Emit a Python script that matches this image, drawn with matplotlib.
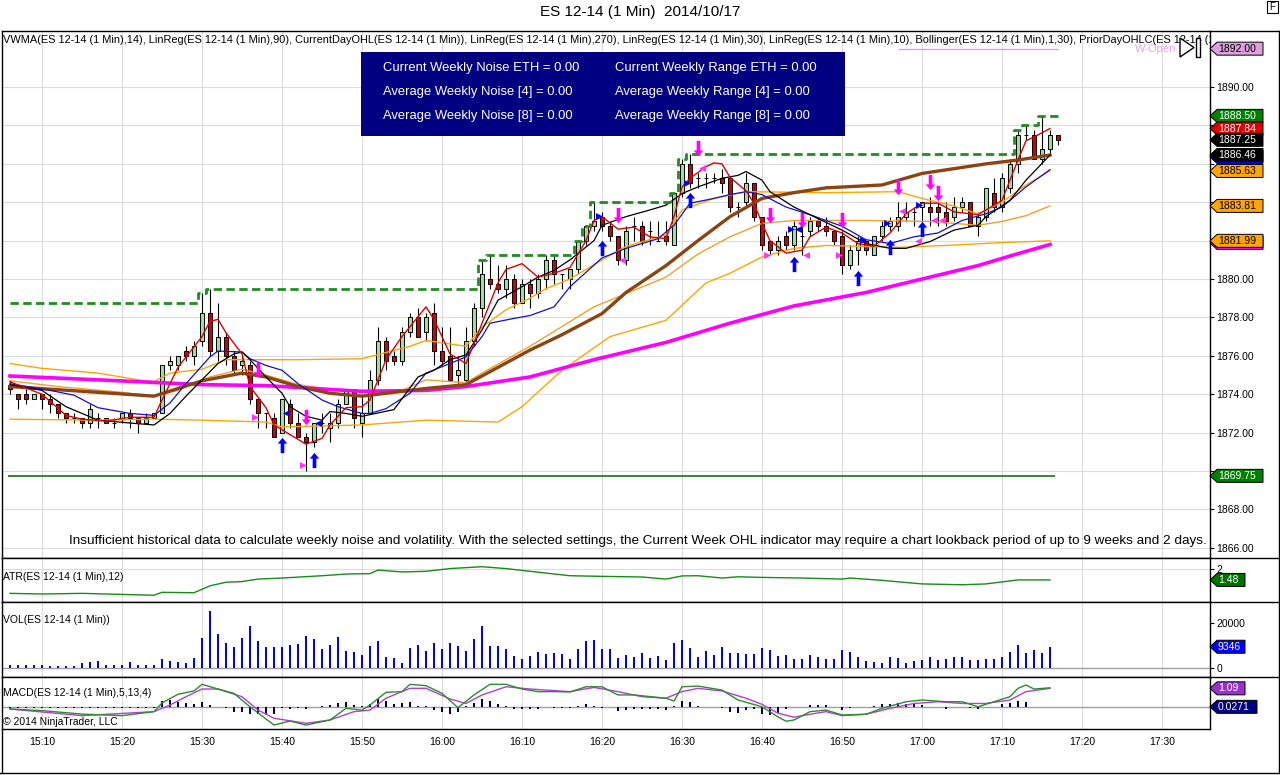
import matplotlib
matplotlib.use("Agg")
import matplotlib.pyplot as plt
import matplotlib.transforms as mtransforms
from matplotlib.lines import Line2D
from matplotlib.patches import Polygon, Rectangle
from matplotlib.path import Path
import numpy as np

plt.rcParams['font.family'] = ['Liberation Sans', 'DejaVu Sans']

# ---------------- data ----------------
session_start = '15:06'
time_ticks = ['15:10', '15:20', '15:30', '15:40', '15:50', '16:00', '16:10', '16:20',
              '16:30', '16:40', '16:50', '17:00', '17:10', '17:20', '17:30']

opens = [1874.5, 1874.0, 1874.0, 1873.75, 1874.0, 1873.75, 1873.5, 1873.0, 1872.75, 1872.75,
         1872.5, 1872.75, 1872.75, 1872.5, 1872.75, 1873.0, 1872.75, 1872.5, 1872.75, 1873.0,
         1875.5, 1875.5, 1876.25, 1876.0, 1876.75, 1878.25, 1876.25, 1877.0, 1876.0, 1875.5,
         1875.5, 1873.75, 1873.0, 1872.75, 1872.0, 1873.5, 1872.5, 1871.75, 1871.5, 1872.5,
         1872.25, 1872.5, 1873.5, 1874.25, 1872.5, 1873.0, 1874.75, 1876.75, 1876.0, 1875.75,
         1877.25, 1878.0, 1877.25, 1878.25, 1876.25, 1876.0, 1875.0, 1874.75, 1876.75, 1878.5,
         1880.0, 1879.75, 1879.5, 1880.0, 1878.75, 1879.75, 1879.25, 1880.0, 1881.0, 1880.25,
         1880.0, 1880.5, 1882.0, 1882.75, 1883.25, 1882.75, 1882.25, 1881.0, 1882.75, 1882.75,
         1882.5, 1882.0, 1882.25, 1881.75, 1884.5, 1886.0, 1885.25, 1885.25, 1885.25, 1885.25,
         1885.25, 1883.75, 1884.0, 1885.0, 1883.25, 1882.0, 1881.5, 1882.25, 1881.75, 1882.25,
         1882.5, 1883.0, 1882.75, 1882.5, 1882.25, 1880.75, 1881.5, 1882.0, 1881.25, 1882.25,
         1882.75, 1882.75, 1883.25, 1883.5, 1883.75, 1883.75, 1883.75, 1883.5, 1883.25, 1883.75,
         1884.0, 1882.75, 1883.25, 1884.5, 1883.75, 1884.75, 1886.0, 1887.5, 1887.5, 1886.25,
         1886.75, 1887.5]
highs = [1874.75, 1874.0, 1874.25, 1874.0, 1874.0, 1874.0, 1873.5, 1873.0, 1873.0, 1872.75,
         1873.5, 1873.0, 1872.75, 1872.75, 1873.0, 1873.25, 1872.75, 1873.0, 1873.0, 1875.5,
         1876.0, 1876.0, 1876.5, 1876.75, 1879.25, 1879.5, 1878.75, 1877.25, 1876.25, 1876.0,
         1875.75, 1873.75, 1873.0, 1873.0, 1873.75, 1873.75, 1873.0, 1872.0, 1872.5, 1873.0,
         1873.0, 1873.75, 1874.25, 1874.25, 1874.0, 1875.25, 1877.5, 1877.0, 1876.25, 1877.5,
         1878.25, 1878.5, 1878.25, 1878.75, 1877.5, 1877.5, 1876.0, 1877.5, 1878.75, 1881.0,
         1881.25, 1880.75, 1880.75, 1880.25, 1880.0, 1880.0, 1880.25, 1881.25, 1881.25, 1880.25,
         1880.5, 1882.0, 1882.75, 1884.0, 1883.5, 1883.0, 1882.25, 1882.75, 1883.25, 1883.0,
         1883.0, 1883.0, 1883.0, 1884.5, 1886.25, 1886.5, 1885.5, 1885.5, 1885.5, 1885.75,
         1885.25, 1884.0, 1885.5, 1885.0, 1883.25, 1882.0, 1882.25, 1882.5, 1883.0, 1883.0,
         1883.25, 1883.25, 1883.25, 1882.5, 1882.5, 1881.75, 1882.25, 1882.0, 1882.25, 1883.0,
         1883.25, 1884.0, 1884.0, 1883.75, 1884.0, 1884.25, 1884.0, 1884.0, 1884.25, 1884.25,
         1884.0, 1883.5, 1884.75, 1885.25, 1885.5, 1886.25, 1887.75, 1888.0, 1887.75, 1888.5,
         1887.75, 1887.5]
lows = [1874.0, 1873.25, 1873.5, 1873.75, 1873.25, 1873.0, 1872.75, 1872.5, 1872.5, 1872.25,
        1872.25, 1872.25, 1872.5, 1872.25, 1872.5, 1872.25, 1872.0, 1872.5, 1872.75, 1873.0,
        1875.25, 1875.25, 1875.75, 1875.5, 1876.5, 1876.0, 1875.75, 1875.5, 1875.0, 1875.0,
        1873.5, 1872.25, 1872.25, 1871.75, 1872.0, 1872.25, 1871.75, 1870.0, 1871.25, 1872.0,
        1871.5, 1872.25, 1873.5, 1872.25, 1871.75, 1873.0, 1874.5, 1875.25, 1875.5, 1875.5,
        1877.0, 1877.0, 1876.75, 1875.5, 1875.5, 1874.75, 1874.5, 1874.5, 1876.5, 1878.0,
        1879.5, 1879.25, 1879.0, 1878.5, 1878.75, 1878.5, 1879.0, 1879.5, 1879.75, 1879.5,
        1879.5, 1880.25, 1881.75, 1882.5, 1882.5, 1882.0, 1880.75, 1880.75, 1882.0, 1881.75,
        1881.75, 1882.0, 1881.75, 1881.75, 1884.25, 1884.75, 1884.75, 1884.75, 1885.0, 1884.5,
        1883.5, 1883.25, 1883.75, 1883.0, 1881.5, 1881.25, 1881.25, 1881.5, 1881.5, 1881.25,
        1882.25, 1882.5, 1882.25, 1881.75, 1880.25, 1880.5, 1880.75, 1881.25, 1881.25, 1882.0,
        1882.5, 1882.5, 1883.0, 1882.75, 1882.75, 1882.75, 1882.75, 1882.75, 1883.0, 1883.5,
        1882.75, 1882.25, 1883.0, 1883.5, 1883.5, 1884.5, 1885.5, 1887.25, 1886.25, 1886.0,
        1886.5, 1887.0]
closes = [1874.25, 1873.75, 1873.75, 1874.0, 1873.75, 1873.5, 1873.0, 1872.75, 1872.75, 1872.5,
          1873.25, 1872.75, 1872.5, 1872.5, 1873.0, 1872.75, 1872.5, 1872.75, 1873.0, 1875.5,
          1875.75, 1876.0, 1876.0, 1876.5, 1878.25, 1876.25, 1877.0, 1876.0, 1875.25, 1875.75,
          1873.75, 1873.0, 1873.0, 1871.75, 1873.75, 1872.5, 1871.75, 1871.5, 1872.5, 1872.5,
          1872.5, 1873.5, 1874.25, 1872.75, 1873.0, 1874.75, 1876.75, 1875.75, 1875.75, 1877.25,
          1878.0, 1877.0, 1878.0, 1876.25, 1875.75, 1874.75, 1875.25, 1876.75, 1878.5, 1880.25,
          1879.75, 1879.5, 1880.0, 1878.75, 1879.75, 1879.25, 1880.0, 1881.0, 1880.25, 1880.25,
          1880.5, 1882.0, 1882.75, 1883.0, 1882.75, 1882.25, 1881.0, 1882.5, 1882.75, 1882.0,
          1882.5, 1882.0, 1882.0, 1884.5, 1886.0, 1885.0, 1885.25, 1885.25, 1885.25, 1885.0,
          1883.75, 1883.75, 1885.0, 1883.25, 1881.75, 1881.5, 1882.0, 1881.75, 1882.75, 1882.25,
          1883.0, 1882.75, 1882.5, 1882.0, 1880.75, 1881.5, 1882.0, 1881.5, 1882.25, 1882.75,
          1883.0, 1883.25, 1883.5, 1883.5, 1884.0, 1883.5, 1883.5, 1883.0, 1883.75, 1884.0,
          1882.75, 1883.25, 1884.75, 1883.75, 1885.25, 1886.0, 1887.5, 1887.5, 1886.25, 1886.75,
          1887.5, 1887.25]

volume = [1200, 1200, 1200, 1200, 1050, 900, 750, 750, 900, 2100,
          2400, 3000, 1200, 1200, 1200, 2550, 1200, 1200, 1200, 3900,
          3000, 2550, 2250, 4500, 13500, 25500, 15150, 11100, 9450, 13500,
          18750, 12000, 9450, 9450, 9450, 10200, 10500, 14250, 13050, 8400,
          10200, 13950, 7500, 7050, 5850, 9900, 12000, 4800, 4350, 2250,
          8850, 10200, 7500, 11100, 8400, 11100, 9900, 7500, 12900, 18750,
          9900, 9900, 8400, 5250, 3900, 5250, 7050, 6300, 6450, 6150,
          3900, 8400, 12000, 12450, 8400, 8400, 4350, 5700, 4800, 6600,
          4350, 5250, 3450, 11100, 12450, 8850, 4800, 7500, 5700, 9300,
          6600, 6600, 6150, 6150, 8850, 7950, 5250, 5700, 3900, 3900,
          5700, 4800, 3900, 3900, 7950, 7050, 4800, 3000, 2550, 2100,
          4800, 4350, 2100, 3000, 3450, 4800, 3450, 3900, 4800, 4800,
          3450, 3450, 3900, 3900, 4800, 7050, 10200, 6600, 7950, 6600,
          9346]

prior_day_high = 1878.75
day_low = 1869.75
week_open = 1892.00
week_open_first_bar = 111

# indicator lines: (bar index, value) pairs
red_idx = [0, 4, 7, 9, 12, 15, 18, 19, 21, 24, 25, 26, 27, 29, 30, 32, 33, 35, 37, 39,
           40, 42, 44, 45, 47, 49, 52, 53, 55, 57, 59, 61, 62, 64, 66, 68, 70, 72, 73, 74,
           76, 78, 80, 82, 83, 84, 85, 87, 88, 89, 90, 92, 93, 94, 95, 97, 99, 100, 102, 104,
           106, 108, 110, 112, 114, 116, 118, 121, 122, 124, 125, 126, 127, 128, 130]
red_val = [1874.65, 1874.0, 1872.9, 1872.7, 1872.6, 1872.8, 1872.8, 1873.7, 1875.4, 1877.0,
           1877.8, 1877.9, 1877.2, 1876.1, 1874.4, 1873.3, 1872.4, 1871.9, 1871.4, 1871.7,
           1872.4, 1873.3, 1873.35, 1873.7, 1875.8, 1877.0, 1878.55, 1877.9, 1876.1, 1875.6,
           1877.7, 1879.8, 1880.5, 1880.8, 1880.1, 1880.3, 1880.6, 1882.0, 1883.05, 1883.25,
           1882.6, 1882.7, 1882.2, 1882.1, 1883.25, 1884.8, 1885.25, 1885.85, 1886.05, 1886.0,
           1885.3, 1884.6, 1883.95, 1882.9, 1882.0, 1881.35, 1881.5, 1882.2, 1882.7, 1882.4,
           1881.85, 1881.7, 1882.4, 1883.4, 1883.95, 1883.95, 1883.5, 1883.35, 1883.6, 1884.1,
           1885.15, 1886.2, 1887.2, 1887.4, 1887.84]
blk_idx = [0, 4, 7, 11, 15, 18, 20, 22, 24, 26, 28, 29, 30, 32, 34, 35, 37, 39, 40, 42,
           44, 48, 51, 53, 55, 57, 59, 61, 64, 66, 68, 70, 73, 74, 77, 80, 82, 84, 86, 89,
           91, 92, 94, 95, 98, 101, 104, 107, 110, 112, 115, 118, 121, 122, 125, 127, 130]
blk_val = [1874.5, 1874.2, 1873.35, 1872.65, 1872.5, 1872.4, 1873.0, 1873.9, 1874.75, 1875.6,
           1876.1, 1876.2, 1875.8, 1874.9, 1874.05, 1873.35, 1872.85, 1872.65, 1873.1, 1873.0,
           1872.85, 1873.2, 1874.9, 1875.25, 1875.8, 1876.05, 1877.35, 1878.9, 1879.6, 1880.1,
           1880.45, 1881.0, 1882.0, 1882.8, 1883.25, 1883.6, 1883.85, 1884.45, 1884.8, 1885.25,
           1885.4, 1885.6, 1885.15, 1884.55, 1883.75, 1883.15, 1882.55, 1881.85, 1881.6, 1881.6,
           1881.95, 1882.55, 1882.8, 1883.25, 1884.1, 1885.15, 1886.46]
blu_idx = [0, 5, 8, 11, 15, 18, 20, 22, 25, 26, 29, 30, 32, 34, 36, 39, 41, 44, 45, 47,
           50, 52, 55, 57, 59, 60, 63, 65, 68, 70, 74, 77, 81, 83, 85, 88, 90, 92, 94, 97,
           100, 104, 107, 110, 113, 116, 119, 122, 124, 127, 130]
blu_val = [1874.55, 1874.2, 1873.95, 1873.3, 1873.0, 1872.9, 1873.55, 1874.55, 1875.95, 1876.25,
           1876.2, 1875.85, 1875.5, 1875.25, 1874.55, 1873.7, 1873.35, 1873.0, 1873.0, 1873.25,
           1874.05, 1875.1, 1875.6, 1875.95, 1877.0, 1877.7, 1877.95, 1878.1, 1878.55, 1879.6,
           1881.1, 1881.6, 1882.1, 1882.8, 1883.95, 1884.2, 1884.4, 1884.55, 1884.4, 1883.75,
           1883.35, 1882.75, 1882.05, 1881.85, 1882.2, 1882.4, 1883.05, 1883.4, 1883.75, 1884.8,
           1885.7]
brn_idx = [0, 11, 18, 24, 29, 32, 36, 40, 44, 52, 57, 61, 65, 69, 74, 77, 82, 86, 90, 94,
           98, 102, 109, 114, 122, 126, 130]
brn_val = [1874.4, 1874.1, 1873.9, 1874.7, 1875.1, 1874.9, 1874.4, 1874.05, 1873.9, 1874.3,
           1874.5, 1875.4, 1876.3, 1877.1, 1878.2, 1879.3, 1880.7, 1882.0, 1883.25, 1884.2,
           1884.5, 1884.75, 1884.9, 1885.5, 1886.0, 1886.2, 1886.46]
mag_idx = [0, 11, 24, 32, 44, 52, 57, 65, 73, 82, 90, 98, 107, 118, 121, 125, 130]
mag_val = [1874.95, 1874.75, 1874.5, 1874.45, 1874.15, 1874.2, 1874.4, 1874.9, 1875.8, 1876.7,
           1877.7, 1878.6, 1879.3, 1880.4, 1880.7, 1881.2, 1881.8]
bb_up_idx = [0, 4, 11, 16, 18, 20, 24, 27, 31, 36, 44, 50, 52, 57, 59, 62, 65, 67, 70, 74,
             77, 82, 84, 88, 92, 102, 111, 114, 118, 121, 124, 127, 130]
bb_up_val = [1875.6, 1875.35, 1875.1, 1874.75, 1874.65, 1875.1, 1875.3, 1875.8, 1875.8, 1875.8,
             1875.85, 1876.5, 1876.8, 1876.5, 1877.5, 1878.4, 1879.0, 1879.5, 1880.0, 1881.0,
             1881.7, 1882.3, 1883.6, 1884.2, 1884.55, 1884.5, 1884.55, 1884.2, 1883.8, 1883.4,
             1884.0, 1884.9, 1885.63]
bb_mid_idx = [0, 6, 14, 18, 21, 25, 29, 32, 36, 41, 49, 52, 57, 59, 65, 73, 82, 86, 90, 94,
              98, 107, 115, 118, 121, 124, 127, 130]
bb_mid_val = [1874.7, 1874.4, 1874.1, 1873.9, 1874.2, 1874.9, 1875.3, 1875.0, 1874.5, 1874.2,
              1874.2, 1874.75, 1874.6, 1875.1, 1876.5, 1878.55, 1880.1, 1881.3, 1882.2, 1882.9,
              1883.05, 1883.05, 1883.0, 1882.9, 1882.8, 1883.0, 1883.3, 1883.81]
bb_low_idx = [0, 11, 18, 24, 32, 34, 44, 52, 61, 64, 69, 75, 82, 87, 90, 94, 98, 102, 111, 117,
              124, 130]
bb_low_val = [1872.7, 1872.65, 1872.7, 1872.65, 1872.55, 1872.3, 1872.4, 1872.65, 1872.55, 1873.35,
              1875.25, 1877.0, 1877.85, 1879.8, 1880.3, 1881.15, 1881.6, 1881.75, 1881.65, 1881.75,
              1881.9, 1881.99]

# signal markers (bar index, price)
up_idx = [34, 38, 74, 85, 98, 106, 110, 114]
up_val = [1871.35, 1870.57, 1881.6, 1884.1, 1880.8, 1880.05, 1881.67, 1882.6]
dn_idx = [31, 37, 76, 86, 95, 99, 104, 111, 115, 116]
dn_val = [1875.26, 1872.8, 1883.33, 1886.8, 1883.33, 1883.07, 1883.07, 1884.8, 1885.05, 1884.5]
pink_right_idx = [31, 37, 95, 104]
pink_right_val = [1872.8, 1870.3, 1881.25, 1881.25]
pink_left_idx = [76, 86, 99, 111, 113, 115, 116]
pink_left_val = [1881.0, 1885.8, 1881.25, 1883.55, 1882.0, 1883.07, 1883.07]
blue_left_idx = [34, 38, 98]
blue_left_val = [1873.0, 1872.5, 1882.6]
blue_right_idx = [74, 85, 98, 107, 110, 114]
blue_right_val = [1883.3, 1885.0, 1882.6, 1882.05, 1882.9, 1883.85]

atr_idx = [0, 4, 9, 14, 18, 19, 23, 25, 27, 29, 31, 34, 39, 42, 45, 46, 49, 52, 55, 59,
           62, 65, 70, 74, 79, 82, 84, 86, 89, 91, 94, 99, 104, 105, 109, 114, 119, 122, 126, 130]
atr_val = [0.84, 0.81, 0.84, 0.79, 0.75, 0.89, 0.87, 1.2, 1.37, 1.4, 1.52, 1.57, 1.68, 1.76,
           1.78, 1.95, 1.86, 1.89, 2.02, 2.11, 2.02, 1.89, 1.68, 1.65, 1.62, 1.52, 1.67, 1.68,
           1.57, 1.63, 1.6, 1.57, 1.52, 1.57, 1.46, 1.29, 1.25, 1.29, 1.48, 1.48]

macd_idx = [0, 4, 9, 14, 18, 19, 21, 23, 24, 26, 28, 30, 33, 35, 37, 40, 42, 44, 45, 47,
            49, 50, 52, 54, 56, 58, 60, 62, 64, 66, 68, 70, 72, 74, 76, 78, 82, 83, 84, 86,
            89, 91, 94, 96, 97, 98, 100, 102, 104, 107, 109, 112, 114, 117, 119, 121, 123, 125, 126, 127,
            128, 130]
macd_val = [-0.1, -0.19, -0.39, -0.48, -0.25, 0.25, 0.75, 0.94, 1.32, 1.05, 0.8, 0.03, -1.02, -0.79,
            -1.02, -0.73, -0.06, -0.16, 0.13, 0.86, 0.9, 1.32, 1.24, 0.8, -0.02, 0.71, 1.32, 1.32,
            1.05, 0.9, 0.9, 0.88, 1.18, 1.18, 0.71, 0.71, 0.52, 0.36, 1.18, 1.22, 0.99, 0.42, 0.03,
            -0.55, -0.8, -0.73, -0.25, -0.16, -0.44, -0.4, -0.06, 0.32, 0.42, 0.32, 0.32, 0.03, 0.32,
            0.61, 1.09, 1.28, 1.05, 1.12]
avg_idx = [0, 9, 18, 20, 22, 24, 26, 29, 31, 33, 37, 40, 43, 45, 47, 50, 52, 55, 57, 59,
           62, 65, 70, 73, 76, 79, 82, 84, 86, 89, 92, 94, 96, 98, 100, 102, 104, 107, 110, 113,
           116, 119, 122, 125, 127, 130]
avg_val = [-0.1, -0.48, -0.25, 0.13, 0.61, 1.05, 1.05, 0.61, -0.16, -0.63, -0.92, -0.73, -0.25,
           -0.16, 0.52, 1.09, 1.09, 0.48, 0.22, 0.71, 1.18, 1.05, 0.9, 1.14, 0.9, 0.61, 0.52, 0.9,
           1.09, 0.94, 0.52, 0.17, -0.34, -0.57, -0.4, -0.25, -0.48, -0.4, -0.06, 0.22, 0.32, 0.22,
           0.22, 0.42, 0.9, 1.09]
macd_diff = [-0.03, -0.05, -0.05, -0.05, -0.05, -0.05, -0.05, -0.03, -0.03, -0.05,
             -0.03, -0.03, -0.03, -0.03, -0.03, -0.03, -0.03, -0.03, -0.03, 0.36,
             0.42, 0.33, 0.23, 0.17, 0.33, 0.15, 0.04, -0.06, -0.25, -0.25,
             -0.4, -0.4, -0.4, -0.4, -0.06, -0.1, -0.06, -0.1, 0.02, 0.1,
             0.13, 0.23, 0.29, 0.13, 0.1, 0.17, 0.48, 0.36, 0.17, 0.27,
             0.33, 0.1, 0.1, -0.15, -0.25, -0.4, -0.29, 0.1, 0.23, 0.48,
             0.36, 0.17, 0.1, -0.1, -0.1, -0.1, -0.1, 0.02, -0.06, -0.06,
             -0.06, 0.1, 0.19, 0.1, -0.06, 0.02, -0.21, -0.15, -0.1, -0.1,
             -0.1, -0.1, -0.15, 0.1, 0.36, 0.29, 0.1, 0.02, 0.02, -0.06,
             -0.25, -0.34, -0.15, -0.1, -0.4, -0.44, -0.31, -0.1, 0.02, 0.02,
             0.13, 0.13, 0.13, 0.02, -0.15, -0.06, 0.02, 0.02, 0.1, 0.17,
             0.17, 0.23, 0.17, 0.17, 0.13, 0.02, 0.02, -0.1, 0.02, 0.02,
             -0.06, -0.1, 0.04, 0.04, 0.17, 0.23, 0.36, 0.33, 0.04, 0.02,
             0.0271]

# right-hand value tags: (value, text, fill, text colour); empty text = tag hidden below another
main_tags = [(1892.00, '1892.00', '#dda0dd', 'black'),
             (1888.50, '1888.50', '#008000', 'white'),
             (1887.84, '1887.84', '#e00000', 'white'),
             (1887.25, '1887.25', 'black', 'white'),
             (1886.36, '', '#0000ff', 'white'),
             (1886.46, '1886.46', 'black', 'white'),
             (1885.63, '1885.63', '#ffa500', 'black'),
             (1883.81, '1883.81', '#ffa500', 'black'),
             (1881.88, '', '#ff00ff', 'white'),
             (1881.99, '1881.99', '#ffa500', 'black'),
             (1869.75, '1869.75', '#008000', 'white')]
atr_tags = [(1.48, '1.48', '#007000', 'white')]
vol_tags = [(9346, '9346', '#0000ff', 'white')]
macd_tags = [(1.09, '1.09', '#9932cc', 'white'), (0.0271, '0.0271', '#000080', 'white')]

header = ('VWMA(ES 12-14 (1 Min),14), LinReg(ES 12-14 (1 Min),90), CurrentDayOHL(ES 12-14 (1 Min)), '
          'LinReg(ES 12-14 (1 Min),270), LinReg(ES 12-14 (1 Min),30), LinReg(ES 12-14 (1 Min),10), '
          'Bollinger(ES 12-14 (1 Min),1,30), PriorDayOHLC(ES 12-14 (1 Min))')
noise_lines = ['Current Weekly Noise ETH = 0.00', 'Average Weekly Noise [4] = 0.00',
               'Average Weekly Noise [8] = 0.00']
range_lines = ['Current Weekly Range ETH = 0.00', 'Average Weekly Range [4] = 0.00',
               'Average Weekly Range [8] = 0.00']
notice = ('Insufficient historical data to calculate weekly noise and volatility. With the selected '
          'settings, the Current Week OHL indicator may require a chart lookback period of up to 9 weeks and 2 days.')

# ---------------- figure ----------------
W, H = 1280, 775
fig = plt.figure(figsize=(W / 100, H / 100), dpi=100)
fig.patch.set_facecolor('white')


def fx(px):
    return px / W


def fy(py):
    return 1 - py / H


def pbox(x0, y0, x1, y1):
    return [fx(x0), fy(y1), (x1 - x0) / W, (y1 - y0) / H]


ax = fig.add_axes(pbox(2, 31, 1210, 558))
ax_atr = fig.add_axes(pbox(2, 558, 1210, 602))
ax_vol = fig.add_axes(pbox(2, 602, 1210, 677))
ax_macd = fig.add_axes(pbox(2, 677, 1210, 729))
panels = [ax, ax_atr, ax_vol, ax_macd]


def to_min(t):
    hh, mm = t.split(':')
    return int(hh) * 60 + int(mm)


t0 = to_min(session_start)
tick_pos = [to_min(t) - t0 for t in time_ticks]

for a in panels:
    a.set_xlim(-1, 150)
    a.set_xticks(tick_pos)
    a.set_axisbelow(True)
    a.grid(axis='x', color='#dcdcdc', lw=0.8)
    a.tick_params(axis='x', length=0, labelbottom=False)
    a.yaxis.tick_right()
    a.tick_params(axis='y', direction='out', length=3, width=0.8, pad=1.5, labelsize=7.5)
    for s in a.spines.values():
        s.set_linewidth(1)

ax_macd.set_xticks(tick_pos, labels=time_ticks)
ax_macd.tick_params(axis='x', labelbottom=True, labelsize=7.5, pad=5.5)

# ---- price panel ----
ax.set_ylim(1865.47, 1892.92)
price_ticks = np.arange(1866, 1891, 2)
tag_values = np.array([t[0] for t in main_tags])
# axis labels that sit under a value tag are not drawn, as in the original
price_labels = ['' if np.min(np.abs(tag_values - p)) < 0.6 else f'{p:.2f}' for p in price_ticks]
ax.set_yticks(price_ticks, labels=price_labels)
ax.grid(axis='y', color='#dcdcdc', lw=0.8)

o, hi, lo, c = (np.array(v) for v in (opens, highs, lows, closes))
bars = np.arange(len(o))
rising = c >= o
ax.vlines(bars, lo, hi, color='black', lw=0.8, zorder=2)
ax.bar(bars, np.abs(c - o), bottom=np.minimum(o, c), width=0.62,
       color=np.where(rising, '#98e298', '#d40000'), edgecolor='black', lw=0.7, zorder=3)

ax.plot(bb_low_idx, bb_low_val, color='#ffa500', lw=1, zorder=4)
ax.plot(bb_mid_idx, bb_mid_val, color='#f0a030', lw=1, zorder=4)
ax.plot(bb_up_idx, bb_up_val, color='#ffa500', lw=1, zorder=4)
ax.plot(mag_idx, mag_val, color='#ff00ff', lw=2.6, zorder=5)
ax.plot(brn_idx, brn_val, color='#8b4513', lw=2.4, zorder=5)
ax.plot(blu_idx, blu_val, color='#1010d0', lw=0.9, zorder=6)
ax.plot(blk_idx, blk_val, color='black', lw=0.9, zorder=6)
ax.plot(red_idx, red_val, color='#e00000', lw=1, zorder=6)

day_high = np.maximum.accumulate(np.r_[prior_day_high, hi])[1:]
ax.plot(bars, day_high, drawstyle='steps-mid', color='#228b22', lw=2,
        ls=(0, (3, 1.6)), zorder=6)
ax.hlines(day_low, -0.25, bars[-1] - 0.4, color='#006400', lw=1.1, zorder=4)
ax.hlines(week_open, week_open_first_bar, bars[-1], color='#dda0dd', lw=1, zorder=4)
ax.text(140.6, week_open, 'W-Open', color='#e0a8e8', fontsize=8, va='center', zorder=4)

# signal arrows and triangles
v = np.array([(0, 1), (0.62, 0.25), (0.24, 0.25), (0.24, -1), (-0.24, -1),
              (-0.24, 0.25), (-0.62, 0.25), (0, 1)])
arrow_up = Path(v, closed=True)
arrow_dn = Path(v * [1, -1], closed=True)
ax.scatter(up_idx, up_val, marker=arrow_up, s=11 ** 2, color='#0000ff', lw=0, zorder=7)
ax.scatter(dn_idx, dn_val, marker=arrow_dn, s=11 ** 2, color='#ff00ff', lw=0, zorder=7)
ax.scatter(np.array(pink_right_idx) - 0.4, pink_right_val, marker='>', s=5 ** 2,
           color='#ff33ff', lw=0, zorder=7)
ax.scatter(np.array(pink_left_idx) + 0.45, pink_left_val, marker='<', s=5 ** 2,
           color='#ff33ff', lw=0, zorder=7)
ax.scatter(np.array(blue_left_idx) + 0.45, blue_left_val, marker='<', s=5 ** 2,
           color='#0000ff', lw=0, zorder=7)
ax.scatter(np.array(blue_right_idx) - 0.4, blue_right_val, marker='>', s=5 ** 2,
           color='#0000ff', lw=0, zorder=7)

# ---- ATR ----
ax_atr.plot(atr_idx, atr_val, color='#1a8a1a', lw=1)
ax_atr.set_ylim(0.429, 2.524)
ax_atr.set_yticks([2], labels=['2'])
ax_atr.grid(axis='y', color='#dcdcdc', lw=0.8)

# ---- volume ----
ax_vol.bar(np.arange(len(volume)), volume, width=0.32, color='#0000ff', zorder=3)
ax_vol.axhline(0, color='#a0a0a0', lw=1, zorder=2)
ax_vol.set_ylim(-4275, 29475)
ax_vol.set_yticks([0, 20000], labels=['0', '20000'])

# ---- MACD ----
ax_macd.axhline(0, color='#a0a0a0', lw=1, zorder=2)
ax_macd.bar(np.arange(len(macd_diff)), macd_diff, width=0.32, color='#000050', zorder=3)
ax_macd.plot(avg_idx, avg_val, color='#b040d0', lw=1, zorder=4)
ax_macd.plot(macd_idx, macd_val, color='#2e8b2e', lw=1, zorder=4)
ax_macd.set_ylim(-1.247, 1.741)
ax_macd.set_yticks([])


# ---- value tags on the right axis ----
def add_tag(a, value, text, fc, tc):
    y0, y1 = a.get_ylim()
    hh = 6.5 * (y1 - y0) / a.bbox.height
    tr = mtransforms.blended_transform_factory(fig.transFigure, a.transData)
    right = 1217 + 6 * max(len(text), 7) + 4 if not text else 1217 + 6 * len(text) + 4
    pts = [(fx(1210), value), (fx(1217), value + hh), (fx(right), value + hh),
           (fx(right), value - hh), (fx(1217), value - hh)]
    a.add_patch(Polygon(pts, closed=True, transform=tr, facecolor=fc, edgecolor='black',
                        lw=0.7, clip_on=False, zorder=20))
    if text:
        a.text(fx(1218), value, text, transform=tr, color=tc, fontsize=7.5, va='center',
               ha='left', clip_on=False, zorder=21)


for a, tags in ((ax, main_tags), (ax_atr, atr_tags), (ax_vol, vol_tags), (ax_macd, macd_tags)):
    for val, txt, fc, tc in tags:
        add_tag(a, val, txt, fc, tc)

# ---- texts ----
fig.text(0.5, fy(12), 'ES 12-14 (1 Min)  2014/10/17', ha='center', va='center', fontsize=11)
ax.text(fx(3), fy(40), header, transform=fig.transFigure, fontsize=7.9, va='center',
        clip_on=True, zorder=8)
fig.text(fx(3), fy(577), 'ATR(ES 12-14 (1 Min),12)', fontsize=7.5, va='center')
fig.text(fx(3), fy(620), 'VOL(ES 12-14 (1 Min))', fontsize=7.5, va='center')
fig.text(fx(3), fy(693), 'MACD(ES 12-14 (1 Min),5,13,4)', fontsize=7.5, va='center')
fig.text(fx(3), fy(722), '\u00a9 2014 NinjaTrader, LLC', fontsize=7.5, va='center')
fig.text(fx(1207), fy(541), notice, ha='right', va='center', fontsize=9.7, zorder=8)

fig.add_artist(Rectangle((fx(361), fy(136)), 484 / W, 84 / H, transform=fig.transFigure,
                         facecolor='#000080', edgecolor='none', zorder=9))
for k, (left, right) in enumerate(zip(noise_lines, range_lines)):
    fig.text(fx(383), fy(68 + 24 * k), left, color='white', fontsize=9.4, va='center', zorder=10)
    fig.text(fx(615), fy(68 + 24 * k), right, color='white', fontsize=9.4, va='center', zorder=10)

# scroll-to-end button and "F" box
fig.add_artist(Polygon([(fx(1180), fy(38)), (fx(1180), fy(57)), (fx(1194), fy(47.5))],
                       closed=True, transform=fig.transFigure, facecolor='white',
                       edgecolor='black', lw=1, zorder=22))
fig.add_artist(Rectangle((fx(1196), fy(57)), 4 / W, 19 / H, transform=fig.transFigure,
                         facecolor='white', edgecolor='black', lw=1, zorder=22))
fig.add_artist(Rectangle((fx(1267), fy(13)), 11 / W, 12 / H, transform=fig.transFigure,
                         facecolor='white', edgecolor='black', lw=0.8, zorder=22))
fig.text(fx(1272.5), fy(7), 'F', ha='center', va='center', fontsize=7, zorder=23)

# frame and panel separators running across the axis column
for y in (31, 558, 602, 677):
    fig.add_artist(Line2D([fx(1210), fx(1279)], [fy(y), fy(y)], color='black', lw=1))
fig.add_artist(Line2D([fx(1279), fx(1279)], [fy(31), fy(773)], color='black', lw=1))
fig.add_artist(Line2D([fx(1.5), fx(1.5)], [fy(729), fy(773)], color='black', lw=1))
fig.add_artist(Line2D([0, 1], [fy(773), fy(773)], color='black', lw=1))

fig.savefig('out.png', dpi=100)
